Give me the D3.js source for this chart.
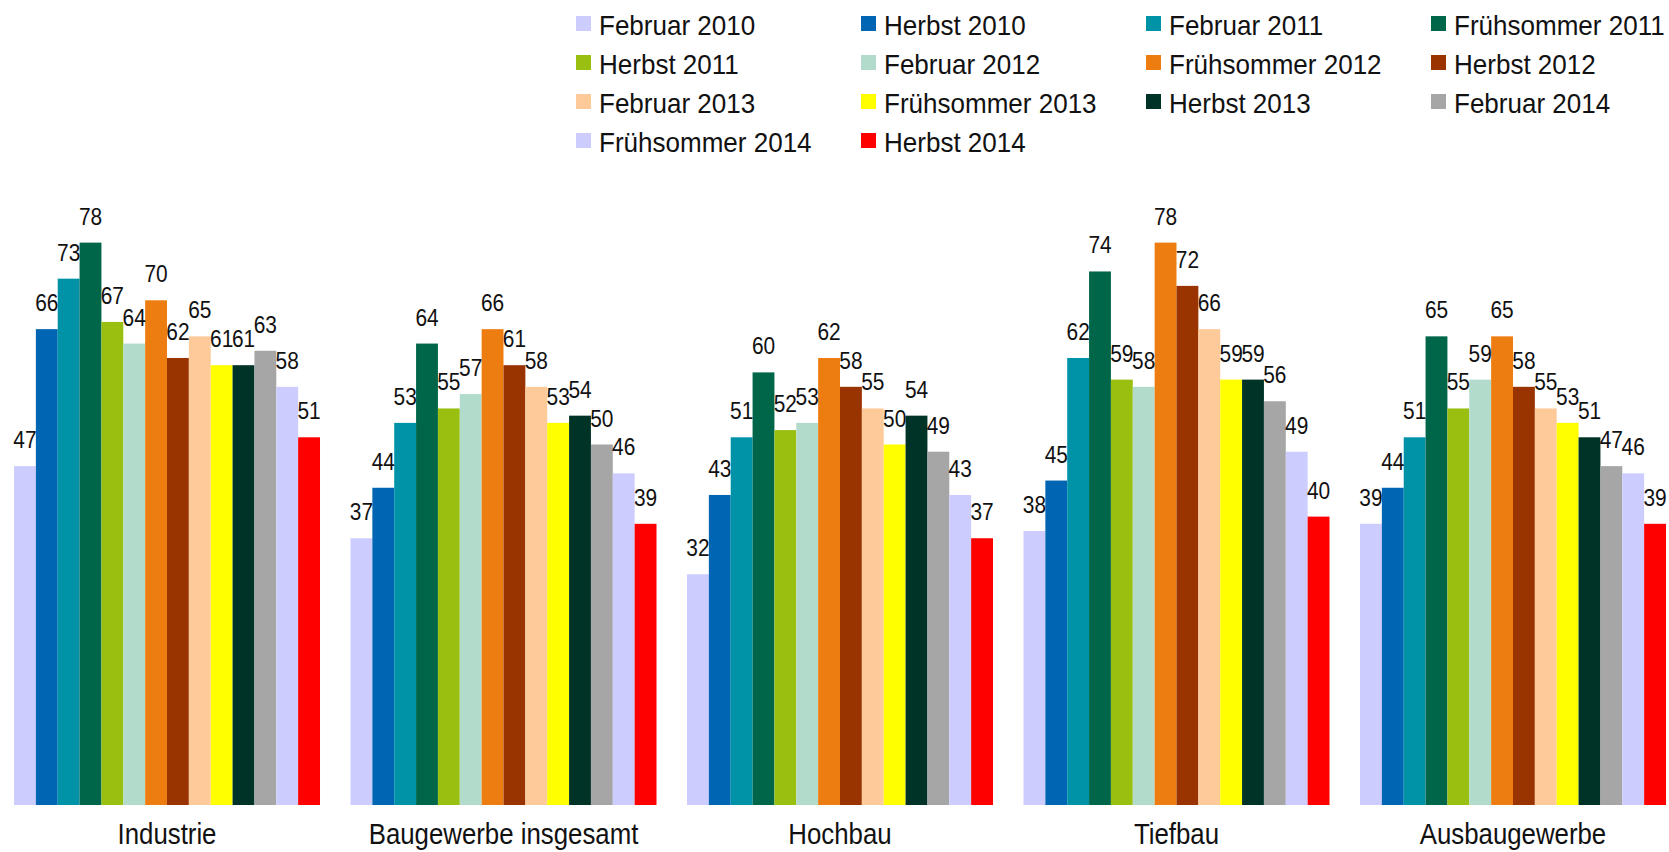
<!DOCTYPE html>
<html>
<head>
<meta charset="utf-8">
<script src="https://cdn.jsdelivr.net/npm/d3@7"></script>
<style>
  html, body { margin: 0; padding: 0; background: #fff; }
  svg { display: block; }
  text { font-family: "Liberation Sans", "Open Sans", sans-serif; fill: #111; }
</style>
</head>
<body>
<svg id="chart" width="1669" height="852"></svg>
<script>
const categories = ["Industrie", "Baugewerbe insgesamt", "Hochbau", "Tiefbau", "Ausbaugewerbe"];
const seriesNames = ["Februar 2010", "Herbst 2010", "Februar 2011", "Frühsommer 2011",
  "Herbst 2011", "Februar 2012", "Frühsommer 2012", "Herbst 2012",
  "Februar 2013", "Frühsommer 2013", "Herbst 2013", "Februar 2014",
  "Frühsommer 2014", "Herbst 2014"];
const seriesColors = ["#CCCCFF", "#0066B3", "#0093A8", "#00664A",
  "#99C010", "#B3DBCB", "#EE7D11", "#993300",
  "#FFCA99", "#FFFF00", "#003328", "#A6A6A6",
  "#CCCCFF", "#FF0000"];
// values per category, one entry per series
const industrie   = [47, 66, 73, 78, 67, 64, 70, 62, 65, 61, 61, 63, 58, 51];
const baugewerbe  = [37, 44, 53, 64, 55, 57, 66, 61, 58, 53, 54, 50, 46, 39];
const hochbau     = [32, 43, 51, 60, 52, 53, 62, 58, 55, 50, 54, 49, 43, 37];
const tiefbau     = [38, 45, 62, 74, 59, 58, 78, 72, 66, 59, 59, 56, 49, 40];
const ausbau      = [39, 44, 51, 65, 55, 59, 65, 58, 55, 53, 51, 47, 46, 39];
const values = [industrie, baugewerbe, hochbau, tiefbau, ausbau];

const svg = d3.select("#chart");

const x0 = d3.scaleBand().domain(categories).range([14, 1666]).paddingInner(0.0906).paddingOuter(0);
const x1 = d3.scaleBand().domain(seriesNames).range([0, x0.bandwidth()]).padding(0);
const y = d3.scaleLinear().domain([0, 100]).range([805, 84]);

const groups = svg.append("g").selectAll("g")
  .data(categories.map((c, i) => ({ cat: c, vals: values[i] })))
  .join("g")
  .attr("transform", d => `translate(${x0(d.cat)},0)`);

groups.selectAll("rect")
  .data(d => d.vals.map((v, j) => ({ name: seriesNames[j], v, color: seriesColors[j] })))
  .join("rect")
  .attr("x", d => x1(d.name))
  .attr("width", x1.bandwidth())
  .attr("y", d => y(d.v))
  .attr("height", d => y(0) - y(d.v))
  .attr("fill", d => d.color);

groups.selectAll("text.val")
  .data(d => d.vals.map((v, j) => ({ name: seriesNames[j], v })))
  .join("text")
  .attr("class", "val")
  .attr("transform", d => `translate(${x1(d.name) + x1.bandwidth() / 2},${y(d.v) - 18}) scale(0.87,1)`)
  .attr("text-anchor", "middle")
  .attr("font-size", 24)
  .text(d => d.v);

// category axis labels
svg.append("g").selectAll("text")
  .data(categories)
  .join("text")
  .attr("transform", d => `translate(${x0(d) + x0.bandwidth() / 2},844) scale(0.89,1)`)
  .attr("text-anchor", "middle")
  .attr("font-size", 29)
  .text(d => d);

// legend
const legCols = 4;
const legend = svg.append("g").selectAll("g")
  .data(seriesNames)
  .join("g")
  .attr("transform", (d, i) => `translate(${576 + (i % legCols) * 285},${35 + Math.floor(i / legCols) * 39})`);
legend.append("rect")
  .attr("x", 0).attr("y", -19).attr("width", 15).attr("height", 15)
  .attr("fill", (d, i) => seriesColors[i]);
legend.append("text")
  .attr("transform", "translate(23,0) scale(0.93,1)")
  .attr("font-size", 28)
  .text(d => d);
</script>
</body>
</html>
